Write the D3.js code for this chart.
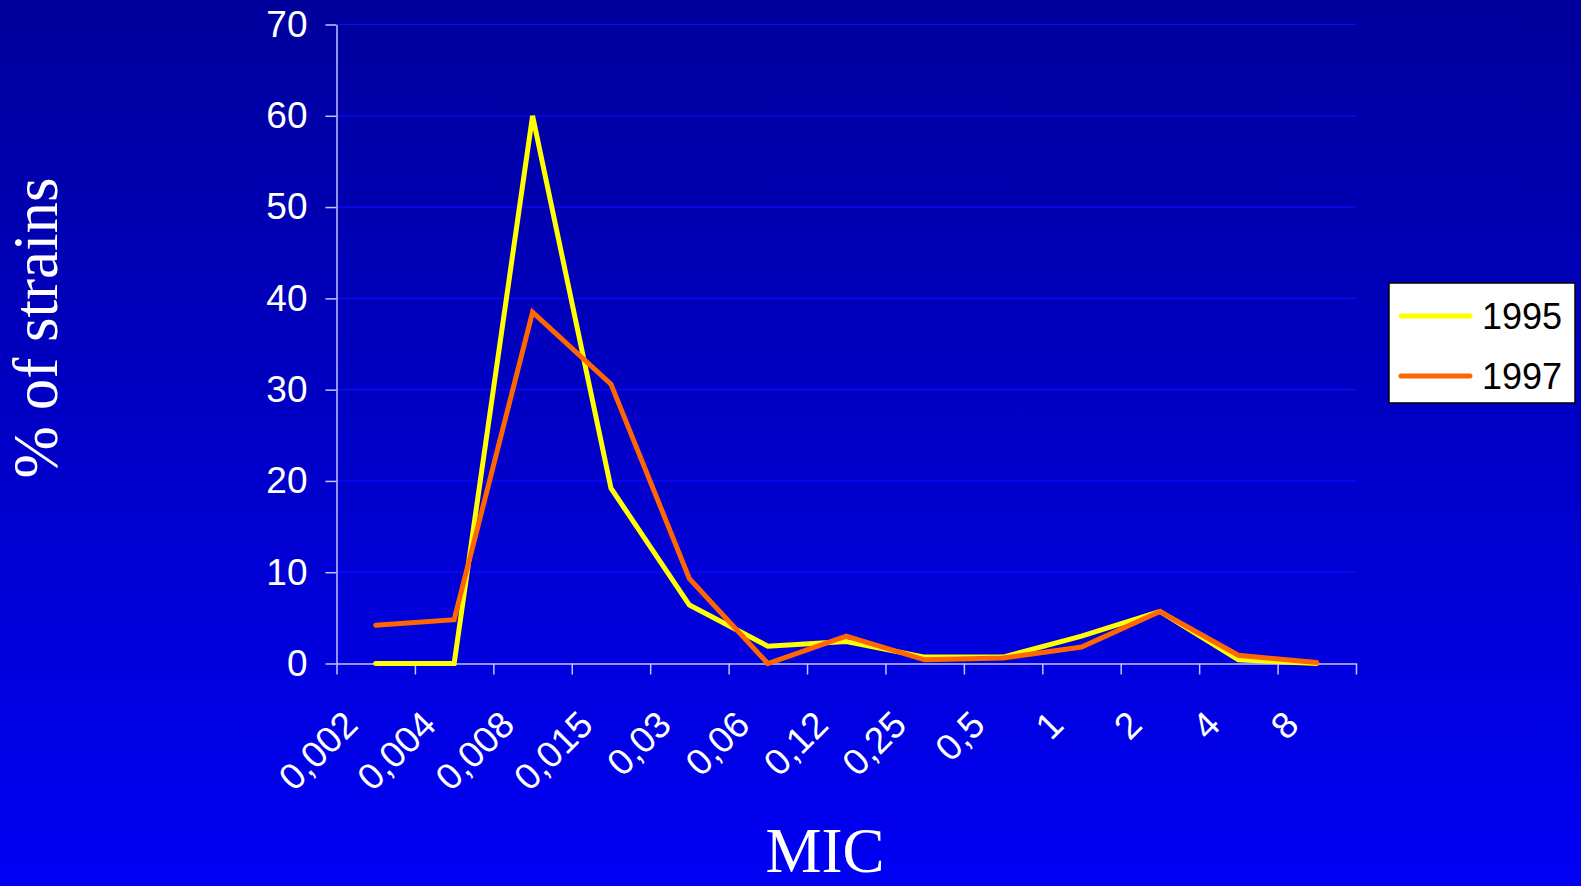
<!DOCTYPE html>
<html>
<head>
<meta charset="utf-8">
<script src="https://cdn.jsdelivr.net/npm/d3@7"></script>
<style>
  html, body { margin: 0; padding: 0; background: #0000c0; }
  svg { display: block; }
</style>
</head>
<body>
<svg id="chart" width="1581" height="886"></svg>
<script>
// categories on OX (MIC)
const micLabels = ["0,002", "0,004", "0,008", "0,015", "0,03", "0,06", "0,12", "0,25", "0,5", "1", "2", "4", "8"];
// % of strains
const values1995 = [0, 0, 60, 19.2, 6.4, 1.9, 2.4, 0.7, 0.7, 3.0, 5.7, 0.4, 0];
const values1997 = [4.2, 4.8, 38.5, 30.6, 9.3, 0, 3.0, 0.4, 0.6, 1.8, 5.7, 0.9, 0.1];
const yTicks = [0, 10, 20, 30, 40, 50, 60, 70];
const seriesNames = ["1995", "1997"];
const seriesColors = ["#ffff00", "#ff6600"];

const svg = d3.select("#chart");
const W = 1581, H = 886;

// background gradient
const defs = svg.append("defs");
const grad = defs.append("linearGradient")
   .attr("id", "bg").attr("x1", 0).attr("y1", 0).attr("x2", 0).attr("y2", 1);
grad.append("stop").attr("offset", "0%").attr("stop-color", "#00009c");
grad.append("stop").attr("offset", "100%").attr("stop-color", "#0000f4");
svg.append("rect").attr("width", W).attr("height", H).attr("fill", "url(#bg)");

const area = { left: 336.5, right: 1356, top: 24.5, bottom: 663.5 };

// scales
const scX = d3.scaleBand().domain(micLabels).range([area.left, area.right]).padding(0);
const scIdx = d3.scaleLinear().domain([0, micLabels.length]).range([area.left, area.right]);
const scY = d3.scaleLinear().domain([0, 70]).range([area.bottom, area.top]);

// grid lines
svg.append("g")
   .selectAll("line")
   .data(yTicks.filter(d => d > 0))
   .enter()
   .append("line")
   .attr("x1", area.left).attr("x2", area.right)
   .attr("y1", d => scY(d)).attr("y2", d => scY(d))
   .attr("stroke", "#0a0aff").attr("stroke-width", 1.2);

// axes
const axisCol = "#c4c4ff";
const gY = svg.append("g")
   .attr("transform", `translate(${area.left},0)`)
   .call(d3.axisLeft(scY).tickValues(yTicks).tickSize(11).tickPadding(18).tickSizeOuter(0));
gY.select(".domain").attr("stroke", axisCol).attr("stroke-width", 1.5);
gY.selectAll(".tick line").attr("stroke", axisCol).attr("stroke-width", 1.5);
gY.selectAll(".tick text")
   .attr("fill", "#ffffff")
   .style("font-family", "Arial, 'Liberation Sans', sans-serif")
   .style("font-size", "37px");

const gX = svg.append("g")
   .attr("transform", `translate(0,${area.bottom})`)
   .call(d3.axisBottom(scIdx).ticks(micLabels.length).tickSize(11).tickFormat("").tickSizeOuter(0));
gX.select(".domain").attr("stroke", axisCol).attr("stroke-width", 1.5);
gX.selectAll(".tick line").attr("stroke", axisCol).attr("stroke-width", 1.5);

// x labels, rotated
svg.append("g")
   .selectAll("text")
   .data(micLabels)
   .enter()
   .append("text")
   .attr("transform", d => `translate(${scX(d) + scX.bandwidth() / 2 - 16}, 727) rotate(-45)`)
   .attr("text-anchor", "end")
   .attr("fill", "#ffffff")
   .style("font-family", "Arial, 'Liberation Sans', sans-serif")
   .style("font-size", "37px")
   .text(d => d);

// lines
const line = d3.line()
   .x((d, i) => scX(micLabels[i]) + scX.bandwidth() / 2)
   .y(d => scY(d));

[values1995, values1997].forEach((vals, k) => {
   svg.append("path")
      .datum(vals)
      .attr("d", line)
      .attr("fill", "none")
      .attr("stroke", seriesColors[k])
      .attr("stroke-width", 5)
      .attr("stroke-linejoin", "miter")
      .attr("stroke-linecap", "round");
});

// axis titles
svg.append("text")
   .attr("x", 825).attr("y", 872)
   .attr("text-anchor", "middle")
   .attr("fill", "#ffffff")
   .style("font-family", "'Liberation Serif', 'Times New Roman', serif")
   .style("font-size", "63px")
   .text("MIC");

svg.append("text")
   .attr("transform", "translate(57,328) rotate(-90)")
   .attr("text-anchor", "middle")
   .attr("fill", "#ffffff")
   .style("font-family", "'Liberation Serif', 'Times New Roman', serif")
   .style("font-size", "63px")
   .text("% of strains");

// legend
const lg = svg.append("g").attr("transform", "translate(1389,283)");
lg.append("rect")
   .attr("width", 186).attr("height", 120)
   .attr("fill", "#ffffff").attr("stroke", "#000000").attr("stroke-width", 1.5);
seriesNames.forEach((name, k) => {
   const yy = 33 + k * 60;
   lg.append("line")
      .attr("x1", 12).attr("x2", 81).attr("y1", yy).attr("y2", yy)
      .attr("stroke", seriesColors[k]).attr("stroke-width", 5)
      .attr("stroke-linecap", "round");
   lg.append("text")
      .attr("x", 93).attr("y", yy + 13)
      .attr("fill", "#000000")
      .style("font-family", "Arial, 'Liberation Sans', sans-serif")
      .style("font-size", "36px")
      .text(name);
});
</script>
</body>
</html>
